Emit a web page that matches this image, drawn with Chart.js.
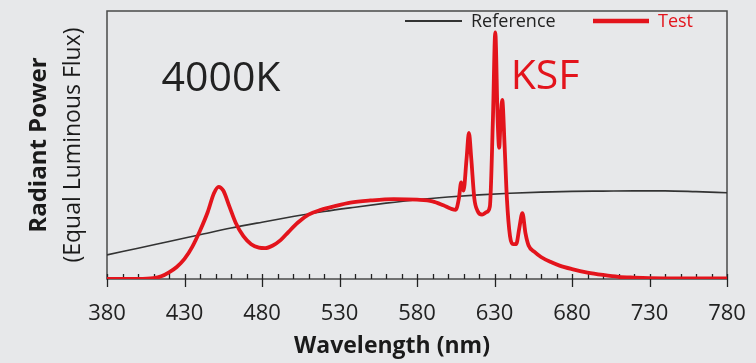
<!DOCTYPE html>
<html>
<head>
<meta charset="utf-8">
<script src="https://cdn.jsdelivr.net/npm/chart.js@4"></script>
<style>
    html, body { margin: 0; padding: 0; background: #e7e8ea; }
    #wrap { width: 756px; height: 363px; }
</style>
</head>
<body>
<div id="wrap"><canvas id="spectrum"></canvas></div>
<script>
// Wavelengths (nm) and relative radiant power
const testNm = [380, 400, 410, 415, 420, 425, 430, 435, 440, 445, 449, 452, 455, 459, 463, 468, 473, 478, 482, 487,
    492, 497, 503, 510, 518, 527, 537, 550, 565, 580, 590, 597, 602, 605, 607, 608.5, 610, 612, 613.5, 615,
    617, 619, 622, 625, 627, 629, 630.5, 632, 633, 634, 635, 636.5, 638, 640, 642, 644, 646, 648, 650, 652,
    656, 660, 666, 672, 680, 690, 700, 710, 720, 730, 750, 780];
const testPower = [0, 0, 0.003, 0.01, 0.025, 0.045, 0.075, 0.12, 0.18, 0.25, 0.32, 0.344, 0.33, 0.27, 0.21, 0.16, 0.13, 0.117, 0.115, 0.125,
    0.145, 0.175, 0.21, 0.24, 0.258, 0.272, 0.285, 0.293, 0.298, 0.296, 0.29, 0.275, 0.262, 0.258, 0.3, 0.36, 0.33, 0.45, 0.545, 0.45,
    0.3, 0.255, 0.24, 0.25, 0.27, 0.6, 0.92, 0.6, 0.49, 0.6, 0.668, 0.5, 0.3, 0.16, 0.13, 0.13, 0.19, 0.246, 0.17, 0.125,
    0.1, 0.082, 0.064, 0.05, 0.037, 0.024, 0.015, 0.008, 0.005, 0.003, 0.002, 0.002];

const refNm = [380, 400, 420, 440, 460, 480, 500, 520, 540, 560, 580, 600, 620, 640, 660, 680, 700, 720, 740, 760, 780];
const refPower = [0.09, 0.115, 0.14, 0.165, 0.19, 0.212, 0.233, 0.252, 0.268, 0.283, 0.296, 0.306, 0.314, 0.32, 0.324, 0.327, 0.328, 0.329, 0.329, 0.326, 0.322];

const xTicks = [380, 430, 480, 530, 580, 630, 680, 730, 780];

const testColor = '#e3141c';
const refColor = '#333333';
const FONT = "'Open Sans', sans-serif";

const toPoints = (xs, ys) => xs.map((x, i) => ({ x: x, y: ys[i] }));

// Frame, tick marks, legend, axis titles and labels
const decorations = {
    id: 'decorations',
    beforeDatasetsDraw(chart) {
        const { ctx, chartArea: a, scales: { x } } = chart;
        ctx.save();
        ctx.strokeStyle = '#4a4a4a';
        ctx.lineWidth = 1.5;
        ctx.strokeRect(a.left, a.top, a.right - a.left, a.bottom - a.top);

        // minor ticks point inward, major ticks cross the axis
        ctx.strokeStyle = '#222';
        ctx.lineWidth = 1.3;
        for (let nm = 380; nm <= 780; nm += 10) {
            const px = Math.round(x.getPixelForValue(nm)) + 0.5;
            const major = (nm - 380) % 50 === 0;
            ctx.beginPath();
            ctx.moveTo(px, a.bottom - 5);
            ctx.lineTo(px, a.bottom + (major ? 8 : 0));
            ctx.stroke();
        }
        ctx.restore();
    },
    afterDraw(chart) {
        const { ctx, chartArea: a } = chart;
        ctx.save();

        // legend
        ctx.lineCap = 'butt';
        ctx.strokeStyle = refColor;
        ctx.lineWidth = 1.8;
        ctx.beginPath();
        ctx.moveTo(405, 21);
        ctx.lineTo(462, 21);
        ctx.stroke();
        ctx.strokeStyle = testColor;
        ctx.lineWidth = 4.5;
        ctx.beginPath();
        ctx.moveTo(593, 21);
        ctx.lineTo(649, 21);
        ctx.stroke();
        ctx.font = '18px ' + FONT;
        ctx.textBaseline = 'middle';
        ctx.fillStyle = '#222';
        ctx.fillText('Reference', 471, 22);
        ctx.fillStyle = testColor;
        ctx.fillText('Test', 658, 22);

        // annotations
        ctx.font = '41px ' + FONT;
        ctx.fillStyle = '#222';
        ctx.textAlign = 'center';
        ctx.fillText('4000K', 221, 79);
        ctx.fillStyle = testColor;
        ctx.fillText('KSF', 545, 77);

        // x title (sits a little left of the plot centre in the original)
        ctx.fillStyle = '#1a1a1a';
        ctx.font = 'bold 23px ' + FONT;
        ctx.fillText('Wavelength (nm)', 392, 346);

        // y title, two lines
        const cy = (a.top + a.bottom) / 2;
        ctx.translate(0, cy);
        ctx.rotate(-Math.PI / 2);
        ctx.font = 'bold 24px ' + FONT;
        ctx.fillText('Radiant Power', 0, 39);
        ctx.font = '23px ' + FONT;
        ctx.fillText('(Equal Luminous Flux)', 0, 73);
        ctx.restore();
    }
};

const initializeChart = () => {
    const ctx = document.getElementById('spectrum').getContext('2d');
    new Chart(ctx, {
        type: 'line',
        data: {
            datasets: [{
                label: 'Test',
                data: toPoints(testNm, testPower),
                borderColor: testColor,
                borderWidth: 3.8,
                pointRadius: 0,
                cubicInterpolationMode: 'monotone',
                order: 1
            }, {
                label: 'Reference',
                data: toPoints(refNm, refPower),
                borderColor: refColor,
                borderWidth: 1.6,
                pointRadius: 0,
                cubicInterpolationMode: 'monotone',
                order: 2
            }]
        },
        options: {
            responsive: true,
            maintainAspectRatio: false,
            animation: false,
            layout: { padding: { left: 107, right: 29, top: 11, bottom: 0 } },
            plugins: {
                legend: { display: false },
                tooltip: { enabled: false }
            },
            scales: {
                x: {
                    type: 'linear',
                    min: 380,
                    max: 780,
                    afterBuildTicks: (scale) => {
                        scale.ticks = xTicks.map(v => ({ value: v }));
                    },
                    afterFit: (scale) => {
                        scale.height = 84;
                        scale.paddingLeft = 0;
                        scale.paddingRight = 0;
                    },
                    grid: { display: false, drawTicks: false },
                    border: { display: false },
                    ticks: {
                        padding: 22,
                        maxRotation: 0,
                        autoSkip: false,
                        color: '#222',
                        font: { family: FONT, size: 22 }
                    },
                    title: { display: false }
                },
                y: {
                    display: false,
                    min: 0,
                    max: 1
                }
            }
        },
        plugins: [decorations]
    });
};

document.addEventListener('DOMContentLoaded', initializeChart);
</script>
</body>
</html>
